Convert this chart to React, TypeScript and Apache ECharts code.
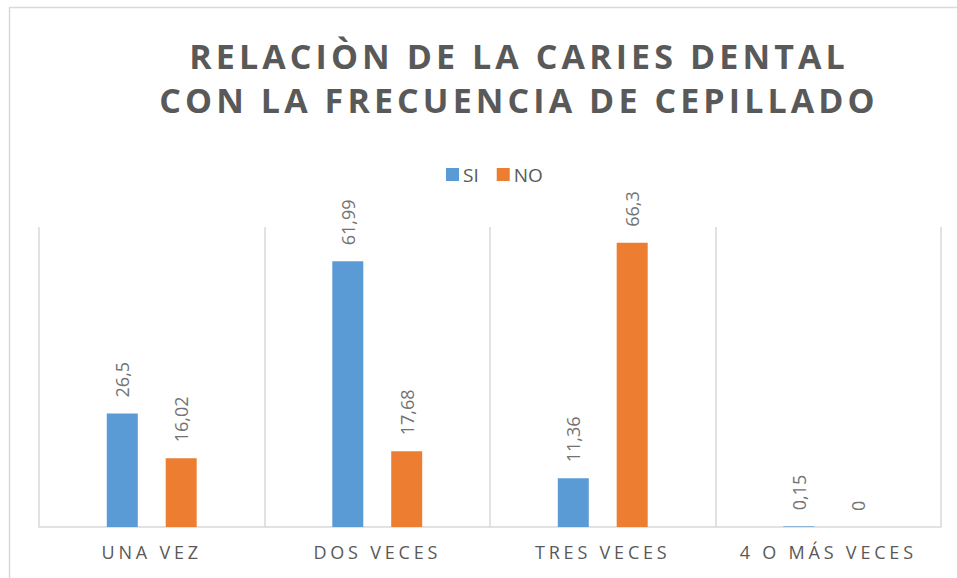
import React, { useEffect, useRef } from "react";
import * as echarts from "echarts";

const titleLines = ["RELACIÒN DE LA CARIES DENTAL", "CON LA FRECUENCIA DE CEPILLADO"];
const categories = ["UNA VEZ", "DOS VECES", "TRES VECES", "4 O MÁS VECES"];
const seriesNames = ["SI", "NO"];
const siValues = [26.5, 61.99, 11.36, 0.15];
const noValues = [16.02, 17.68, 66.3, 0];
const colors = ["#5B9BD5", "#ED7D31"];

const FONT = "'Open Sans', 'Noto Sans', sans-serif";

export default function App() {
  const ref = useRef<HTMLDivElement>(null);

  useEffect(() => {
    if (!ref.current) return;
    const chart = echarts.init(ref.current, undefined, { renderer: "svg" });

    const label = {
      show: true,
      position: "top",
      rotate: 90,
      align: "left",
      verticalAlign: "middle",
      distance: 16,
      color: "#737373",
      fontSize: 18,
      fontFamily: FONT,
      formatter: (p: any) => String(p.value).replace(".", ","),
    };

    chart.setOption({
      animation: false,
      backgroundColor: "#ffffff",
      title: {
        text: titleLines.join("\n"),
        left: 514,
        top: 29,
        textAlign: "center",
        textStyle: {
          color: "#595959",
          fontSize: 34,
          fontWeight: "bold",
          fontFamily: FONT,
          lineHeight: 44,
        },
      },
      legend: {
        data: seriesNames,
        left: 441,
        top: 160,
        itemWidth: 13,
        itemHeight: 13,
        itemGap: 18,
        icon: "rect",
        textStyle: { color: "#595959", fontSize: 19, fontFamily: FONT, padding: [0, 0, 0, -1] },
      },
      grid: { left: 39, right: 16, top: 227, bottom: 51, containLabel: false },
      xAxis: {
        type: "category",
        data: categories,
        axisLine: { lineStyle: { color: "#d9d9d9", width: 1.5 } },
        axisTick: { show: false },
        splitLine: { show: true, lineStyle: { color: "#d9d9d9", width: 1.5 } },
        axisLabel: { color: "#595959", fontSize: 18, fontFamily: FONT, margin: 16 },
      },
      yAxis: {
        type: "value",
        min: 0,
        max: 70,
        show: false,
        splitLine: { show: false },
      },
      graphic: [
        {
          type: "rect",
          shape: { x: 9.5, y: 7.5, width: 1100, height: 700 },
          style: { fill: "none", stroke: "#d9d9d9", lineWidth: 1.5 },
          silent: true,
          z: -10,
        },
      ],
      series: [
        {
          name: seriesNames[0],
          type: "bar",
          data: siValues,
          barWidth: 31,
          barGap: "90%",
          itemStyle: { color: colors[0] },
          label,
        },
        {
          name: seriesNames[1],
          type: "bar",
          data: noValues,
          barWidth: 31,
          barGap: "90%",
          itemStyle: { color: colors[1] },
          label,
        },
      ],
    });

    const applySpacing = () => {
      const root = ref.current;
      if (!root) return;
      root.querySelectorAll("text").forEach((t) => {
        const s = (t.textContent || "").trim();
        if (titleLines.includes(s)) t.setAttribute("letter-spacing", "4.1");
        else if (categories.includes(s)) t.setAttribute("letter-spacing", "3.8");
      });
    };
    chart.on("finished", applySpacing);
    applySpacing();
    const timer = setTimeout(applySpacing, 50);

    return () => {
      clearTimeout(timer);
      chart.dispose();
    };
  }, []);

  return (
    <div
      ref={ref}
      style={{ position: "absolute", left: 0, top: 0, width: 957, height: 578 }}
    />
  );
}
